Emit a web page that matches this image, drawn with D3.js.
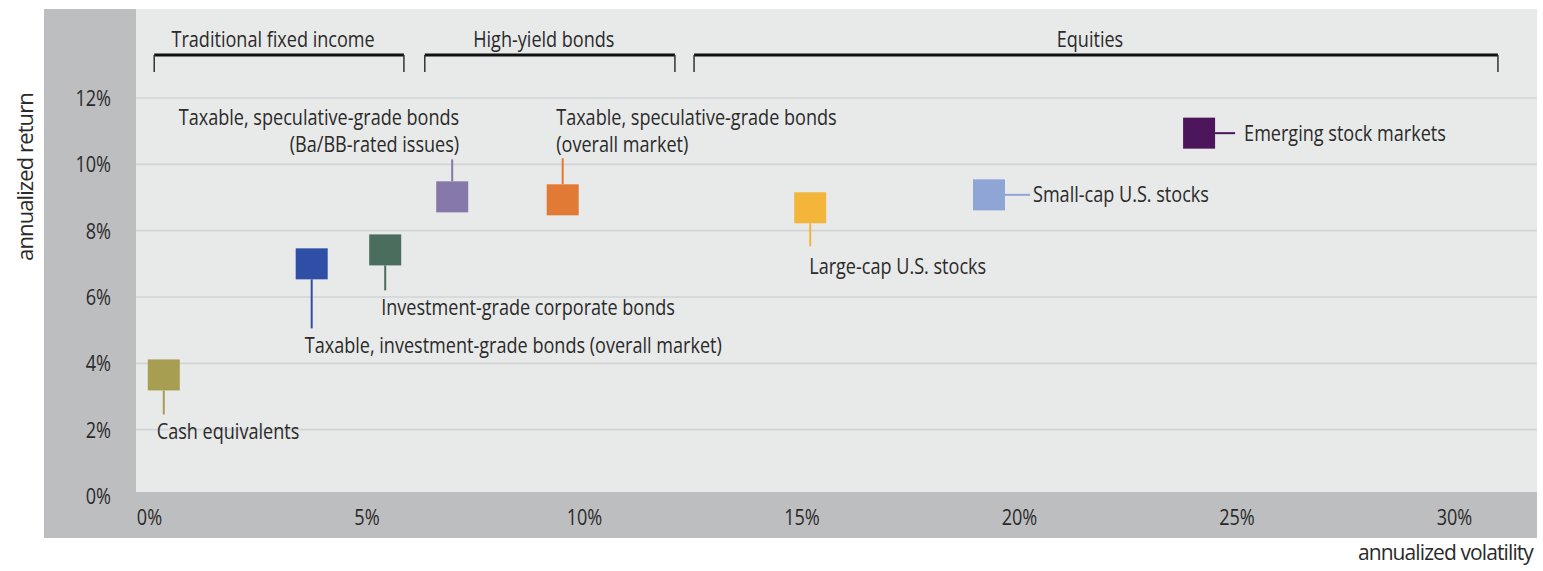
<!DOCTYPE html>
<html>
<head>
<meta charset="utf-8">
<script src="https://cdn.jsdelivr.net/npm/d3@7"></script>
<style>
  html, body { margin: 0; padding: 0; background: #ffffff; }
  svg { display: block; }
  text { font-family: "Open Sans", "Noto Sans", sans-serif; fill: #2a2a2a; font-weight: 500; }
</style>
</head>
<body>
<svg id="chart" width="1543" height="571"></svg>
<script>
// ---- data -------------------------------------------------------------
const assetNames = [
  "Cash equivalents",
  "Taxable, investment-grade bonds (overall market)",
  "Investment-grade corporate bonds",
  "Taxable, speculative-grade bonds (Ba/BB-rated issues)",
  "Taxable, speculative-grade bonds (overall market)",
  "Large-cap U.S. stocks",
  "Small-cap U.S. stocks",
  "Emerging stock markets"
];
// annualized volatility (%) and annualized return (%)
const volatility = [0.34, 3.74, 5.43, 6.97, 9.51, 15.2, 19.31, 24.14];
const returns    = [3.65, 7.0, 7.42, 9.02, 8.93, 8.69, 9.08, 10.94];

// label text as it is broken onto lines
const labelLines = [
  ["Cash equivalents"],
  ["Taxable, investment-grade bonds (overall market)"],
  ["Investment-grade corporate bonds"],
  ["Taxable, speculative-grade bonds", "(Ba/BB-rated issues)"],
  ["Taxable, speculative-grade bonds", "(overall market)"],
  ["Large-cap U.S. stocks"],
  ["Small-cap U.S. stocks"],
  ["Emerging stock markets"]
];

// asset-class groups, spanning volatility ranges (%)
const groupNames = ["Traditional fixed income", "High-yield bonds", "Equities"];
const groupStart = [0.12, 6.34, 12.53];
const groupEnd   = [5.86, 12.09, 31.01];

const xTicks = [0, 5, 10, 15, 20, 25, 30];
const yTicks = [0, 2, 4, 6, 8, 10, 12];

// ---- styles / layout --------------------------------------------------
const markerColors = ["#a89e52", "#2f4fa6", "#4b6d5d", "#8678a9", "#e07a34",
                      "#f3b63b", "#8ea5d6", "#4d165c"];
// callout stems and label offsets (px, relative to the marker centre)
const callouts = [
  { dir: "down",  stem: 24, dx: -7,   dy: 57,  anchor: "start" },
  { dir: "down",  stem: 49, dx: -7,   dy: 82,  anchor: "start" },
  { dir: "down",  stem: 25, dx: -4,   dy: 58,  anchor: "start" },
  { dir: "up",    stem: 22, dx: 7,    dy: -52, anchor: "end" },
  { dir: "up",    stem: 26, dx: -6.5, dy: -55, anchor: "start" },
  { dir: "down",  stem: 23, dx: -1,   dy: 59,  anchor: "start" },
  { dir: "right", stem: 25, dx: 44,   dy: 0,   anchor: "start" },
  { dir: "right", stem: 20, dx: 45,   dy: 0,   anchor: "start" }
];

const FONT = 21;          // px
const SQUEEZE = 0.86;     // horizontal condensing of the type
const LINE_GAP = 27;      // distance between label lines
const SQ_W = 32, SQ_H = 31;

const frame = { left: 44, top: 9, right: 1537, bottom: 538 };
const panel = { left: 136, top: 9, right: 1537, bottom: 492 };

const svg = d3.select("#chart");

const x = d3.scaleLinear().domain([0, 30]).range([149, 1454]);
const y = d3.scaleLinear().domain([0, 12]).range([496, 98]);

// condensed look: squeeze each text run horizontally
function condense(sel) {
  sel.each(function () {
    const w = this.getComputedTextLength();
    if (w > 0) {
      d3.select(this)
        .attr("textLength", w * SQUEEZE)
        .attr("lengthAdjust", "spacingAndGlyphs");
    }
  });
}

// ---- background frame and plotting panel ------------------------------
svg.append("rect")
  .attr("x", frame.left).attr("y", frame.top)
  .attr("width", frame.right - frame.left)
  .attr("height", frame.bottom - frame.top)
  .attr("fill", "#bdbebf");

svg.append("rect")
  .attr("x", panel.left).attr("y", panel.top)
  .attr("width", panel.right - panel.left)
  .attr("height", panel.bottom - panel.top)
  .attr("fill", "#e8e9e9");

// horizontal gridlines
svg.append("g")
  .selectAll("line")
  .data(yTicks.filter(d => d > 0))
  .join("line")
  .attr("x1", panel.left).attr("x2", panel.right)
  .attr("y1", d => y(d)).attr("y2", d => y(d))
  .attr("stroke", "#d2d4d4")
  .attr("stroke-width", 1.6);

// ---- axes -------------------------------------------------------------
const yAxis = svg.append("g")
  .attr("transform", "translate(118,0)")
  .call(d3.axisLeft(y).tickValues(yTicks).tickFormat(d => d + "%")
          .tickSize(0).tickPadding(7));
yAxis.select(".domain").remove();
yAxis.selectAll("text")
  .attr("class", "squeeze")
  .attr("font-size", FONT)
  .attr("font-family", null)
  .attr("fill", "#2a2a2a")
  .attr("dy", "0.35em");

const xAxis = svg.append("g")
  .attr("transform", "translate(0,518)")
  .call(d3.axisBottom(x).tickValues(xTicks).tickFormat(d => d + "%")
          .tickSize(0).tickPadding(0));
xAxis.select(".domain").remove();
xAxis.selectAll("text")
  .attr("class", "squeeze")
  .attr("font-size", FONT)
  .attr("font-family", null)
  .attr("fill", "#2a2a2a")
  .attr("y", 0)
  .attr("dy", "0.35em");

// axis titles: tightened with letter spacing rather than squeezing
svg.append("text")
  .attr("class", "axis-title")
  .attr("transform", "translate(25,177) rotate(-90)")
  .attr("text-anchor", "middle")
  .attr("dy", "0.35em")
  .attr("font-size", 22)
  .attr("letter-spacing", -0.9)
  .text("annualized return");

svg.append("text")
  .attr("class", "axis-title")
  .attr("x", 1533).attr("y", 553)
  .attr("text-anchor", "end")
  .attr("dy", "0.35em")
  .attr("font-size", 21)
  .attr("letter-spacing", -0.9)
  .text("annualized volatility");

// ---- group brackets ---------------------------------------------------
const BRACKET_Y = 55, BRACKET_TICK = 17;
const groups = svg.append("g").selectAll("g")
  .data(groupNames.map((name, i) => ({ name, a: groupStart[i], b: groupEnd[i] })))
  .join("g");

groups.append("line")
  .attr("x1", d => x(d.a)).attr("x2", d => x(d.b))
  .attr("y1", BRACKET_Y).attr("y2", BRACKET_Y)
  .attr("stroke", "#111").attr("stroke-width", 3);
groups.append("line")
  .attr("x1", d => x(d.a)).attr("x2", d => x(d.a))
  .attr("y1", BRACKET_Y).attr("y2", BRACKET_Y + BRACKET_TICK)
  .attr("stroke", "#333").attr("stroke-width", 1.5);
groups.append("line")
  .attr("x1", d => x(d.b)).attr("x2", d => x(d.b))
  .attr("y1", BRACKET_Y).attr("y2", BRACKET_Y + BRACKET_TICK)
  .attr("stroke", "#333").attr("stroke-width", 1.5);
groups.append("text")
  .attr("class", "squeeze")
  .attr("x", d => (x(d.a) + x(d.b)) / 2 - 6)
  .attr("y", 40)
  .attr("dy", "0.35em")
  .attr("text-anchor", "middle")
  .attr("font-size", FONT)
  .text(d => d.name);

// ---- assets: callout stems, squares and labels -------------------------
const assets = assetNames.map((name, i) => ({
  name, vol: volatility[i], ret: returns[i], lines: labelLines[i],
  color: markerColors[i], c: callouts[i]
}));

const pts = svg.append("g").selectAll("g")
  .data(assets)
  .join("g")
  .attr("transform", d => `translate(${x(d.vol)},${y(d.ret)})`);

pts.append("line")
  .attr("x1", d => d.c.dir === "right" ? SQ_W / 2 : 0)
  .attr("y1", d => d.c.dir === "down" ? SQ_H / 2 : d.c.dir === "up" ? -SQ_H / 2 : 0)
  .attr("x2", d => d.c.dir === "right" ? SQ_W / 2 + d.c.stem : 0)
  .attr("y2", d => d.c.dir === "down" ? SQ_H / 2 + d.c.stem
                  : d.c.dir === "up" ? -SQ_H / 2 - d.c.stem : 0)
  .attr("stroke", d => d.color)
  .attr("stroke-width", 2);

pts.append("rect")
  .attr("x", -SQ_W / 2).attr("y", -SQ_H / 2)
  .attr("width", SQ_W).attr("height", SQ_H)
  .attr("fill", d => d.color);

pts.each(function (d) {
  const g = d3.select(this);
  const n = d.lines.length;
  d.lines.forEach((line, k) => {
    g.append("text")
      .attr("class", "squeeze")
      .attr("x", d.c.dx)
      .attr("y", d.c.dy - (n - 1 - k) * LINE_GAP)
      .attr("dy", "0.35em")
      .attr("text-anchor", d.c.anchor)
      .attr("font-size", FONT)
      .text(line);
  });
});

// condense the chart's text runs once laid out
svg.selectAll("text.squeeze").call(condense);
</script>
</body>
</html>
